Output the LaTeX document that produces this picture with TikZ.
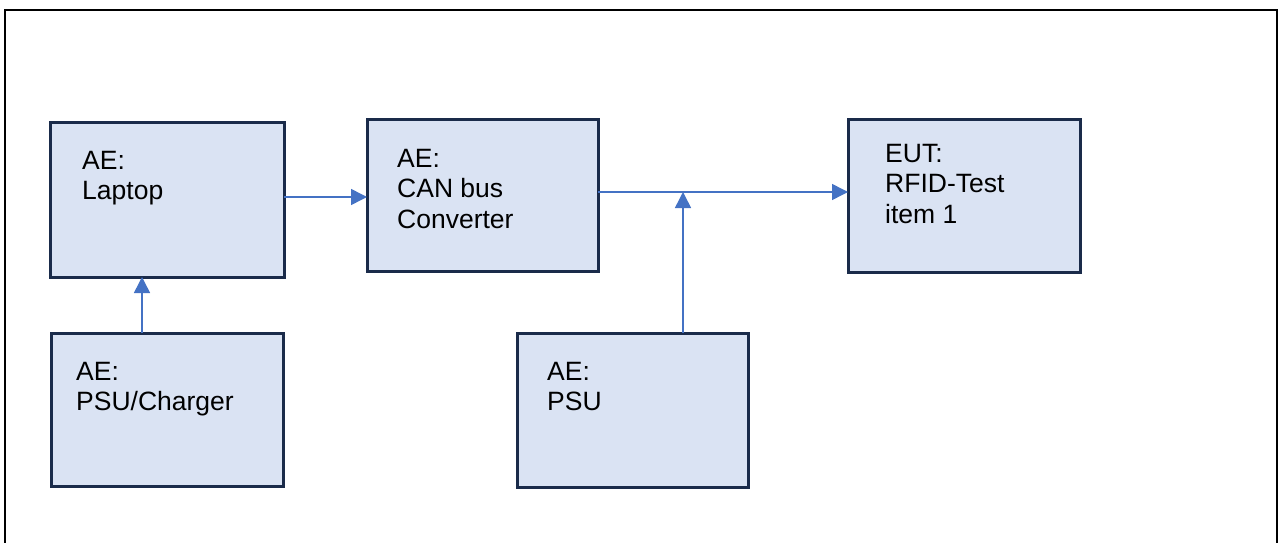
\documentclass[tikz,border=0pt]{standalone}
\usepackage{fontspec}
\setmainfont{Liberation Sans}
\usetikzlibrary{arrows.meta, positioning}
\definecolor{unitfill}{HTML}{DAE3F3}
\definecolor{unitline}{HTML}{1A2B4A}
\definecolor{wireblue}{HTML}{4472C4}

\begin{document}
\begin{tikzpicture}[
      x=1pt, y=-1pt, >={Triangle[length=16pt, width=16pt]},
      unit/.style={draw=unitline, line width=3pt, fill=unitfill,
                   inner sep=0pt, outer sep=0pt},
      caption/.style={inner sep=0pt, align=left,
                      font=\fontsize{26.5}{30.4}\selectfont},
      wire/.style={draw=wireblue, line width=1.5pt, ->},
    ]
    \useasboundingbox (0,0) rectangle (1283,543);
    \draw[line width=2.5pt] (5,560) -- (5,10) -- (1277,10) -- (1277,560);

    \node[unit, minimum width=234pt, minimum height=155pt] (laptop)  at (167,199.5) {};
    \node[unit, minimum width=231pt, minimum height=152pt] (conv)    at (482.5,195) {};
    \node[unit, minimum width=232pt, minimum height=153pt] (eut)     at (964,195.5) {};
    \node[unit, minimum width=232pt, minimum height=153pt] (charger) at (167,409.5) {};
    \node[unit, minimum width=231pt, minimum height=154pt] (psu)     at (632.5,410) {};

    \node[caption, below right=29pt and 32pt of laptop.north west]  {AE:\\Laptop};
    \node[caption, below right=30pt and 30pt of conv.north west]    {AE:\\CAN bus\\Converter};
    \node[caption, below right=25pt and 37pt of eut.north west]     {EUT:\\RFID-Test\\item 1};
    \node[caption, below right=29pt and 25pt of charger.north west] {AE:\\PSU/Charger};
    \node[caption, below right=29pt and 30pt of psu.north west]     {AE:\\PSU};

    \coordinate (lap) at ([yshift=2.5pt]laptop.east);
    \coordinate (bus) at ([yshift=3pt]conv.east);
    \coordinate (tap) at (683,192);
    \coordinate (chg) at ([xshift=-25pt]charger.north);

    \draw[wire] (lap) -- (lap -| conv.west);
    \draw[wire] (bus) -- (bus -| eut.west);
    \draw[wire] (psu.north -| tap) -- (tap);
    \draw[wire] (chg) -- (chg |- laptop.south);
  \end{tikzpicture}
\end{document}
